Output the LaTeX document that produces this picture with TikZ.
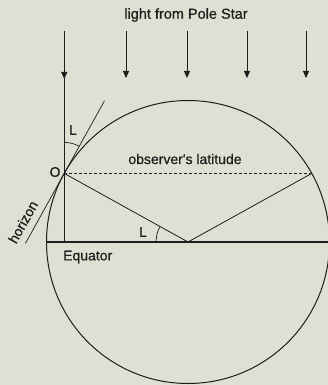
\documentclass[tikz,border=0pt]{standalone}
\usepackage{fontspec}
\setmainfont{Liberation Sans}
\newfontfamily\lblfont{Liberation Sans}[FakeBold=0.6]
\usetikzlibrary{arrows.meta}
\definecolor{bg}{RGB}{221,224,210}
\definecolor{ink}{RGB}{30,30,30}
\begin{document}
\begin{tikzpicture}[x=1pt,y=1pt,
  lbl/.style={font=\lblfont\fontsize{14}{16}\selectfont, inner sep=0pt, text=ink},
  ray/.style={draw=ink, line width=0.9pt, -{Triangle[width=6pt,length=7pt]}},
  thinline/.style={draw=ink, line width=0.8pt},
  eqline/.style={draw=ink, line width=1.4pt},
  rim/.style={draw=ink, line width=1pt},
  latline/.style={draw=ink, line width=0.7pt, dash pattern=on 3pt off 2pt}]
\useasboundingbox (0,0) rectangle (328,-385);
\fill[bg] (0,0) rectangle (328,-385);
\def\R{141.5}
\coordinate (C) at (188,-242);
\path (C) ++(151:\R) coordinate (O);
\path (C) ++(29:\R) coordinate (P);
\path (C) ++(180:\R) coordinate (EqL);
\coordinate (EqR) at (328,-242);
% earth
\draw[rim] (C) circle (\R);
\draw[eqline] (EqL) -- (EqR);
% rays of light
\path (O |- 0,-31) coordinate (s0);
\path (O |- 0,-79) coordinate (e0);
\draw[thinline] (s0) -- (O |- C);
\draw[ray] (s0) -- (e0);
\foreach \i/\x in {1/126,2/187,3/247,4/306}{
  \coordinate (s\i) at (\x,-31);
  \coordinate (e\i) at (\x,-78);
  \draw[ray] (s\i) -- (e\i);
}
% latitude
\draw[latline] (O) -- (P);
\draw[thinline] (O) -- (C) -- (P);
% horizon
\path (O) ++(61:83) coordinate (T1);
\path (O) ++(241:80) coordinate (T2);
\draw[draw=ink, line width=0.7pt] (T2) -- (T1);
% angles
\draw[draw=ink, line width=0.7pt] (O) ++(90:31) arc[start angle=90,end angle=61,radius=31];
\draw[draw=ink, line width=0.7pt] (C) ++(180:32) arc[start angle=180,end angle=151,radius=32];
% labels
\node[lbl, font=\lblfont\fontsize{14.5}{16}\selectfont] (title) at (186,-15) {light from Pole Star};
\node[lbl] (Lup) at (73,-130) {L};
\node[lbl] (Llow) at (143,-232) {L};
\node[lbl] (Olab) at (55,-172) {O};
\node[lbl] (lat) at (185,-159) {observer's latitude};
\node[lbl, anchor=west] (eq) at (63,-257) {Equator};
\node[lbl, rotate=61] (hor) at (23,-222) {horizon};
\end{tikzpicture}
\end{document}
